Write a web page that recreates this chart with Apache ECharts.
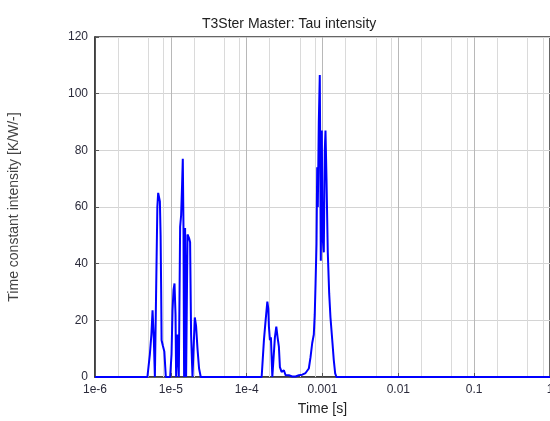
<!DOCTYPE html>
<html>
<head>
<meta charset="utf-8">
<script src="https://cdn.jsdelivr.net/npm/echarts@6/dist/echarts.min.js"></script>
<style>
  html, body { margin: 0; padding: 0; background: #fff; }
  #chart { width: 550px; height: 421px; }
</style>
</head>
<body>
<div id="chart"></div>
<script>
// time constants [s]
const times = [
  1e-6, 4.91e-6, 5.29e-6, 5.54e-6, 5.74e-6, 5.88e-6, 5.97e-6, 6.16e-6, 6.44e-6,
  6.64e-6, 6.81e-6, 6.95e-6, 7.17e-6, 7.33e-6, 7.46e-6, 7.55e-6, 7.85e-6, 8.21e-6, 8.59e-6,
  9.79e-6, 1.021e-5, 1.053e-5, 1.085e-5, 1.118e-5, 1.153e-5, 1.174e-5, 1.225e-5, 1.274e-5,
  1.326e-5, 1.366e-5, 1.408e-5, 1.438e-5, 1.469e-5, 1.496e-5, 1.542e-5, 1.590e-5, 1.659e-5,
  1.741e-5, 1.795e-5, 1.850e-5, 1.930e-5, 2.070e-5, 2.152e-5, 2.246e-5, 2.357e-5, 2.481e-5,
  1.576e-4, 1.689e-4, 1.778e-4, 1.873e-4, 1.930e-4, 1.965e-4, 2.026e-4, 2.088e-4, 2.179e-4,
  2.246e-4, 2.357e-4, 2.459e-4, 2.557e-4, 2.661e-4, 2.743e-4, 2.887e-4, 3.096e-4, 3.260e-4,
  3.432e-4, 3.603e-4, 3.993e-4, 4.413e-4, 4.878e-4, 5.406e-4, 5.975e-4, 6.603e-4, 6.951e-4,
  7.319e-4, 7.681e-4, 7.90e-4, 8.10e-4, 8.336e-4, 8.514e-4, 8.67e-4, 8.94e-4, 9.21e-4, 9.50e-4,
  9.79e-4, 1.0e-3, 1.040e-3, 1.072e-3, 1.095e-3, 1.129e-3, 1.174e-3, 1.225e-3, 1.274e-3,
  1.354e-3, 1.408e-3, 1.469e-3, 1.528e-3, 1
];
// intensity [K/W/-]
const intensity = [
  0, 0, 8, 15, 23.5, 17, 13, 0, 0,
  60, 65, 64.5, 62, 50, 30, 13, 11, 9, 0,
  0, 8, 23.6, 30.7, 33, 22, 0, 15, 0,
  53, 57, 68, 77, 52, 0, 52.6, 0, 50.3,
  49, 47.6, 15, 0, 21, 18, 10, 3, 0,
  0, 13, 20, 26.6, 24, 17.8, 13, 14, 0,
  0, 14, 17.8, 14, 10.6, 3.5, 1.8, 2.4, 0.6,
  1.2, 0.6, 0.2, 0.2, 0.6, 0.8, 1.4, 3, 7,
  12, 15, 22, 33, 47, 74, 60, 90, 106.6, 41,
  87, 50, 44, 80, 87, 70, 44, 29.5, 21,
  12, 6, 1.3, 0, 0
];
const decades = [1e-6, 1e-5, 1e-4, 1e-3, 1e-2, 1e-1];
const minorSteps = [2, 5, 8];

const points = times.map((t, i) => [t, intensity[i]]);
const minorLines = [];
decades.forEach(d => minorSteps.forEach(m => minorLines.push(d * m)));

function fmtTime(v) {
  const e = Math.round(Math.log10(v));
  return e < -3 ? '1e' + e : String(+Math.pow(10, e).toPrecision(1));
}

const font = 'Liberation Sans, Arial, sans-serif';
const chart = echarts.init(document.getElementById('chart'));
chart.setOption({
  animation: false,
  title: {
    text: 'T3Ster Master: Tau intensity',
    left: 197,
    top: 12,
    textStyle: { fontFamily: font, fontSize: 14, fontWeight: 'normal', color: '#222' }
  },
  grid: {
    left: 95, right: 0, top: 37, bottom: 44,
    outerBoundsMode: 'none',
    containLabel: false,
    show: true, borderColor: '#333', borderWidth: 1.5
  },
  xAxis: {
    type: 'log',
    logBase: 10,
    min: 1e-6,
    max: 1,
    splitNumber: 6,
    name: 'Time [s]',
    nameLocation: 'middle',
    nameGap: 25,
    nameTextStyle: { fontFamily: font, fontSize: 14, color: '#222' },
    axisLine: { lineStyle: { color: '#333', width: 1.5 } },
    axisTick: { inside: true, length: 4, lineStyle: { color: '#555' } },
    axisLabel: { formatter: fmtTime, fontFamily: font, fontSize: 12, color: '#2b2b3b', margin: 7 },
    splitLine: { show: true, lineStyle: { color: '#b8b8b8', width: 1 } }
  },
  yAxis: {
    type: 'value',
    min: 0,
    max: 120,
    interval: 20,
    name: 'Time constant intensity [K/W/-]',
    nameLocation: 'middle',
    nameGap: 74,
    nameTextStyle: { fontFamily: font, fontSize: 14, color: '#444' },
    axisLine: { show: true, lineStyle: { color: '#333', width: 1.5 } },
    axisTick: { show: true, inside: true, length: 4, lineStyle: { color: '#555' } },
    axisLabel: { fontFamily: font, fontSize: 12, color: '#2b2b3b', margin: 7 },
    splitLine: { show: true, lineStyle: { color: '#d4d4d4', width: 1 } }
  },
  series: [
    {
      // minor vertical grid lines at 2, 5, 8 of each decade
      type: 'custom',
      silent: true,
      z: 1,
      data: minorLines,
      encode: { x: 0 },
      renderItem: function (params, api) {
        const v = api.value(0);
        const top = api.coord([v, 120]);
        const bot = api.coord([v, 0]);
        const x = Math.round(top[0]) + 0.5;
        return {
          type: 'line',
          shape: { x1: x, y1: top[1], x2: x, y2: bot[1] },
          style: { stroke: '#dadada', lineWidth: 1 }
        };
      }
    },
    {
      type: 'line',
      data: points,
      z: 3,
      showSymbol: false,
      lineStyle: { color: '#0000ff', width: 2 },
      itemStyle: { color: '#0000ff' }
    }
  ]
});
</script>
</body>
</html>
